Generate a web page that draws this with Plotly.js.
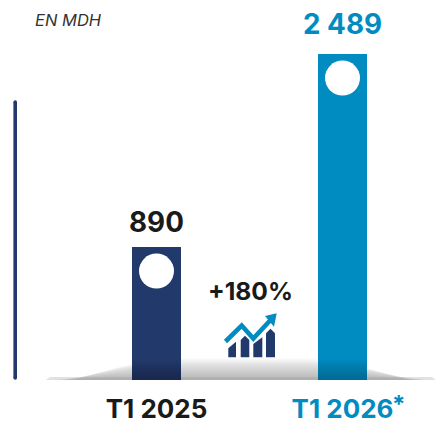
<!DOCTYPE html>
<html><head><meta charset="utf-8">
<script src="https://cdn.plot.ly/plotly-3.0.1.min.js"></script>
<style>html,body{margin:0;padding:0;background:#fff}</style>
</head><body><div id="chart" style="width:436px;height:423px"></div>
<script>
const categories = ['T1 2025', 'T1 2026'];
const values = [890, 2489];
const valueLabels = ['890', '2 489'];
const barColors = ['#223a6b', '#008cc1'];
const tickColors = ['#1a1a1a', '#008cc1'];
const unitLabel = 'EN MDH';
const growthLabel = '+180%';
const axisBaseline = -212;

const W = 436, H = 423, FONT = 'Inter, "Open Sans", sans-serif';
const px = x => x / W, py = y => 1 - y / H;
const P = pts => pts.map((p, i) => (i ? 'L' : 'M') + px(p[0]) + ',' + py(p[1])).join(' ') + ' Z';
const shapes = [];

// floor shadow
for (let i = 0; i < 22; i++) {
  const f = (i + 1) / 22, h = 22 * f, t = 380 - h;
  const l = 46 + f * 30, r = 436 - f * 30;
  const d = 'M' + px(l) + ',' + py(380) +
    ' C' + px(l + 40) + ',' + py(380 - h * 0.55) + ' ' + px(l + 65) + ',' + py(t) + ' ' + px(190) + ',' + py(t) +
    ' L' + px(300) + ',' + py(t) +
    ' C' + px(r - 65) + ',' + py(t) + ' ' + px(r - 40) + ',' + py(380 - h * 0.55) + ' ' + px(r) + ',' + py(380) + ' Z';
  shapes.push({type: 'path', xref: 'paper', yref: 'paper', layer: 'below', path: d, fillcolor: 'rgba(130,130,130,0.03)', line: {width: 0}});
}
shapes.push({type: 'path', xref: 'paper', yref: 'paper', layer: 'below',
  path: P([[46, 380], [50, 377], [432, 377], [436, 380]]), fillcolor: 'rgba(150,150,150,0.28)', line: {width: 0}});

// darkening at the foot of the bars
[[132, 181], [318, 367]].forEach(b => {
  for (let i = 0; i < 10; i++) {
    shapes.push({type: 'rect', xref: 'paper', yref: 'paper', layer: 'above',
      x0: px(b[0]), x1: px(b[1]), y0: py(380), y1: py(380 - (i + 1) * 2),
      fillcolor: 'rgba(0,0,0,0.022)', line: {width: 0}});
  }
});

// left rule with rounded ends
shapes.push({type: 'line', xref: 'paper', yref: 'paper', x0: px(15.2), x1: px(15.2), y0: py(102), y1: py(378),
  line: {color: '#223a6b', width: 3.6}});
[102, 378].forEach(y => shapes.push({type: 'circle', xref: 'paper', yref: 'paper',
  x0: px(13.4), x1: px(17), y0: py(y + 1.8), y1: py(y - 1.8), fillcolor: '#223a6b', line: {width: 0}}));

// growth icon
const navy = '#223a6b', blue = '#008cc1';
[
  [[228.3, 357.3], [228.3, 348.3], [236, 341.7], [236, 357.3]],
  [[240.7, 357.3], [240.7, 340], [245, 335.7], [249.3, 340], [249.3, 357.3]],
  [[253.3, 357.3], [253.3, 344], [262.3, 337.3], [262.3, 357.3]],
  [[266, 357.3], [266, 333.3], [270.5, 328.7], [275, 333.3], [275, 357.3]]
].forEach(p => shapes.push({type: 'path', xref: 'paper', yref: 'paper', layer: 'above', path: P(p), fillcolor: navy, line: {width: 0}}));
shapes.push({type: 'path', xref: 'paper', yref: 'paper', layer: 'above',
  path: 'M' + [[225.5, 341.5], [241.7, 325.5], [253.3, 338.5], [271, 319.5]].map(p => px(p[0]) + ',' + py(p[1])).join(' L'),
  line: {color: blue, width: 4.6}, fillcolor: 'rgba(0,0,0,0)'});
shapes.push({type: 'path', xref: 'paper', yref: 'paper', layer: 'above',
  path: P([[265, 316], [276.7, 313.3], [274, 326.7]]), fillcolor: blue, line: {width: 0}});

const barTrace = {
  type: 'bar', x: categories, y: values.map(v => v - axisBaseline), base: axisBaseline,
  width: 49 / 186, marker: {color: barColors, line: {width: 0}}, hoverinfo: 'skip', showlegend: false
};
const dotTrace = {
  type: 'scatter', mode: 'markers', x: categories, y: values.map(v => v - 199),
  marker: {color: '#fff', size: 35, line: {width: 0}}, hoverinfo: 'skip', showlegend: false
};

const valueAnn = values.map((v, i) => ({
  x: categories[i], y: v, xref: 'x', yref: 'y', text: '<b>' + valueLabels[i] + '</b>', showarrow: false,
  yanchor: 'bottom', yshift: i ? 11 : 6, font: {family: FONT, size: 27.8, color: tickColors[i]}
}));
const annotations = valueAnn.concat([
  {xref: 'paper', yref: 'paper', x: px(32.5), y: py(20), xanchor: 'left', yanchor: 'middle', showarrow: false,
   text: '<i>' + unitLabel + '</i>', font: {family: FONT, size: 16.5, color: '#333'}},
  {xref: 'paper', yref: 'paper', x: px(250), y: py(291), xanchor: 'center', yanchor: 'middle', showarrow: false,
   text: '<b>' + growthLabel + '</b>', font: {family: FONT, size: 24.6, color: '#1a1a1a'}},
  {xref: 'paper', yref: 'paper', x: px(398), y: py(404), xanchor: 'center', yanchor: 'middle', showarrow: false,
   text: '<b>*</b>', font: {family: FONT, size: 24, color: blue}}
]);

Plotly.newPlot('chart', [barTrace, dotTrace], {
  width: W, height: H, margin: {l: 0, r: 0, t: 0, b: 0, pad: 0},
  paper_bgcolor: '#fff', plot_bgcolor: 'rgba(0,0,0,0)', showlegend: false,
  xaxis: {
    type: 'category', categoryorder: 'array', categoryarray: categories,
    range: [-156.5 / 186, (W - 156.5) / 186], domain: [0, 1],
    tickmode: 'array', tickvals: categories,
    ticktext: categories.map((c, i) => '<b><span style="color:' + tickColors[i] + '">' + c + '</span></b>'),
    ticklen: 0, ticks: '', showline: false, showgrid: false, zeroline: false, automargin: false,
    ticklabelstandoff: 11,
    tickfont: {family: FONT, size: 26}, fixedrange: true
  },
  yaxis: {
    domain: [43 / 423, 1], range: [axisBaseline, axisBaseline + 380 * 1599 / 193],
    visible: false, showgrid: false, zeroline: false, fixedrange: true
  },
  shapes, annotations
}, {displayModeBar: false, staticPlot: true});
</script></body></html>
